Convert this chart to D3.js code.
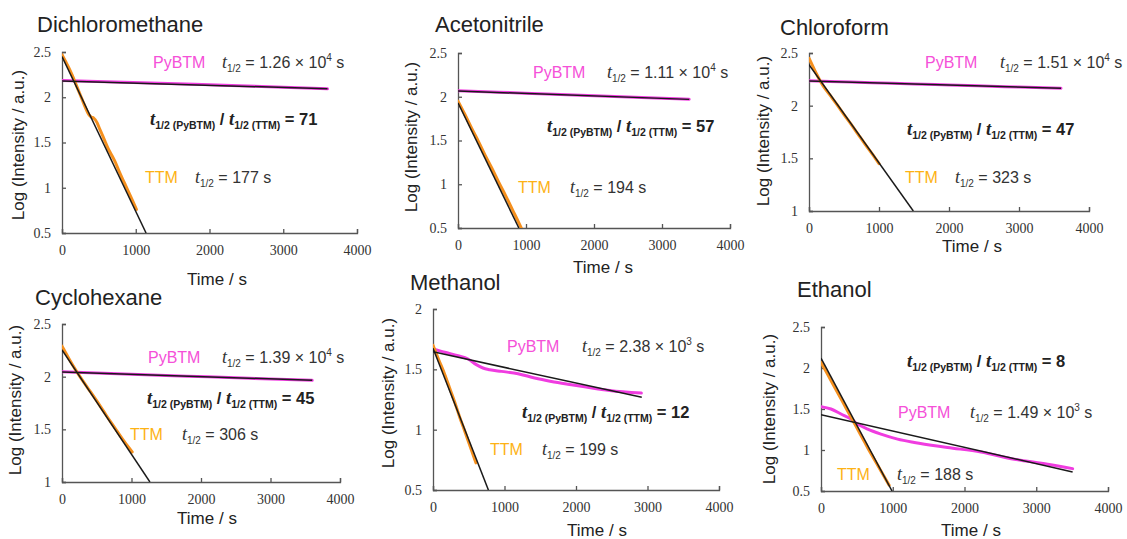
<!DOCTYPE html>
<html><head><meta charset="utf-8">
<script src="https://cdn.jsdelivr.net/npm/d3@7"></script>
<style>
body{margin:0;background:#fff;}
svg{display:block;}
.title{font-family:"Liberation Sans",Arial,sans-serif;font-size:22px;fill:#222;}
.axlab{font-family:"Liberation Sans",Arial,sans-serif;font-size:17px;fill:#222;}
.ann{font-family:"Liberation Sans",Arial,sans-serif;font-size:16px;}
.domain,.tick line{stroke:#555;stroke-width:1.3;}
</style></head><body><svg id="chart" width="1127" height="539"></svg>
<script>
// ---------------- data ----------------
const solvents = ["Dichloromethane","Acetonitrile","Chloroform","Cyclohexane","Methanol","Ethanol"];
const xTicks = [0,1000,2000,3000,4000];
const yTicksWide = [0.5,1,1.5,2,2.5];
const yTicksHigh = [1,1.5,2,2.5];
const yTicksLow = [0.5,1,1.5,2];

// raw decay traces [time (s), log intensity]
const dcmTTM = [[0,2.47],[45,2.40],[90,2.33],[135,2.25],[181,2.16],[225,2.07],[271,1.98],[315,1.89],[362,1.81],[400,1.78],[430,1.77],[475,1.72],[510,1.65],[543,1.59],[590,1.50],[633,1.42],[680,1.35],[724,1.28],[770,1.19],[814,1.11],[860,1.03],[905,0.95],[955,0.86],[1009,0.76]];
const dcmPy = [[0,2.185],[600,2.172],[1200,2.158],[1800,2.143],[2400,2.127],[3000,2.11],[3600,2.093]];
const acnTTM = [[0,1.95],[100,1.80],[200,1.64],[300,1.49],[400,1.33],[500,1.18],[600,1.02],[700,0.87],[800,0.71],[900,0.55],[930,0.5]];
const acnPy = [[0,2.068],[600,2.052],[1200,2.035],[1800,2.018],[2400,2.0],[3000,1.983],[3400,1.972]];
const chlTTM = [[0,2.45],[50,2.38],[100,2.31],[200,2.19],[300,2.10],[400,2.01],[500,1.915],[600,1.825],[700,1.73],[800,1.635],[900,1.545],[1000,1.45]];
const chlPy = [[0,2.236],[600,2.224],[1200,2.212],[1800,2.2],[2400,2.188],[3000,2.177],[3600,2.166]];
const cyhTTM = [[0,2.29],[50,2.23],[100,2.17],[200,2.06],[300,1.96],[400,1.865],[500,1.77],[600,1.67],[700,1.57],[800,1.475],[900,1.38],[1010,1.285]];
const cyhPy = [[0,2.046],[600,2.033],[1200,2.019],[1800,2.005],[2400,1.992],[3000,1.978],[3600,1.965]];
const meoTTM = [[0,1.70],[80,1.58],[163,1.46],[230,1.35],[303,1.23],[370,1.11],[443,0.99],[520,0.86],[600,0.725]];
const meoPy = [[0,1.668],[163,1.641],[350,1.613],[490,1.586],[606,1.539],[699,1.511],[793,1.497],[956,1.483],[1189,1.464],[1422,1.428],[1655,1.40],[1935,1.373],[2098,1.358],[2471,1.325],[2914,1.303]];
const etoTTM = [[0,2.07],[100,1.91],[200,1.75],[300,1.59],[400,1.43],[500,1.27],[600,1.11],[700,0.95],[800,0.80],[950,0.57]];
const etoPy = [[0,1.529],[139,1.50],[279,1.439],[418,1.378],[511,1.316],[650,1.255],[836,1.194],[1068,1.133],[1301,1.092],[1765,1.031],[2229,0.975],[2694,0.888],[3158,0.827],[3507,0.773]];

// linear fits (end points)
const dcmTTMFit = [[0,2.45],[1140,0.5]];
const dcmPyFit = [[0,2.18],[3600,2.094]];
const acnTTMFit = [[0,1.93],[895,0.5]];
const acnPyFit = [[0,2.065],[3400,1.97]];
const chlTTMFit = [[0,2.39],[1490,1.0]];
const chlPyFit = [[0,2.235],[3600,2.165]];
const cyhTTMFit = [[0,2.255],[1265,1.0]];
const cyhPyFit = [[0,2.044],[3600,1.966]];
const meoTTMFit = [[0,1.675],[775,0.5]];
const meoPyFit = [[0,1.645],[2920,1.268]];
const etoTTMFit = [[0,2.12],[990,0.5]];
const etoPyFit = [[0,1.43],[3507,0.733]];

// half-lives and ratios
const pyHalfMant = ["1.26","1.11","1.51","1.39","2.38","1.49"];
const pyHalfExp = ["4","4","4","4","3","3"];
const ttmHalf = ["177","194","323","306","199","188"];
const ratios = ["71","57","47","45","12","8"];

const ttmSeries = [dcmTTM,acnTTM,chlTTM,cyhTTM,meoTTM,etoTTM];
const pySeries = [dcmPy,acnPy,chlPy,cyhPy,meoPy,etoPy];
const ttmFits = [dcmTTMFit,acnTTMFit,chlTTMFit,cyhTTMFit,meoTTMFit,etoTTMFit];
const pyFits = [dcmPyFit,acnPyFit,chlPyFit,cyhPyFit,meoPyFit,etoPyFit];
const yTickSets = [yTicksWide,yTicksWide,yTicksHigh,yTicksHigh,yTicksLow,yTicksWide];

// ---------------- layout ----------------
const layout = [
 {x0:62,x1:357,yT:52,yB:233, title:[37,32], ylab:[18,145], xlab:[217,285], py:[153,68], pyHL:[222,68], ratio:[150,125], ttm:[145,183], ttmHL:[195,183]},
 {x0:458,x1:730,yT:53,yB:228, title:[435,32], ylab:[411,137], xlab:[603,273], py:[533,78], pyHL:[607,78], ratio:[547,132], ttm:[518,193], ttmHL:[570,193]},
 {x0:809,x1:1089,yT:53,yB:211, title:[780,35], ylab:[763,131], xlab:[972,252], py:[925,68], pyHL:[1000,68], ratio:[907,135], ttm:[905,183], ttmHL:[955,183]},
 {x0:62,x1:340,yT:324,yB:482, title:[35,305], ylab:[15,400], xlab:[207,524], py:[148,363], pyHL:[222,363], ratio:[147,404], ttm:[130,440], ttmHL:[182,440]},
 {x0:433,x1:719,yT:309,yB:490, title:[410,290], ylab:[388,393], xlab:[597,536], py:[507,352], pyHL:[582,352], ratio:[522,418], ttm:[490,455], ttmHL:[542,455]},
 {x0:821,x1:1108,yT:327,yB:491, title:[797,297], ylab:[769,409], xlab:[971,536], py:[898,418], pyHL:[970,418], ratio:[907,367], ttm:[837,480], ttmHL:[897,480]}
];
const colTTMLine = "#f5901e", colPyLine = "#f03ce0", colTTMText = "#fdb215", colPyText = "#f550d8";

const svg = d3.select("#chart");
const defs = svg.append("defs");

function halfLife(g, x, y, mant, exp) {
  const t = g.append("text").attr("class","ann").attr("x",x).attr("y",y).style("fill","#333");
  t.append("tspan").style("font-family","'Liberation Serif', serif").style("font-style","italic").style("font-size","18px").text("t");
  t.append("tspan").style("font-size","10px").attr("dy",4).text("1/2");
  if (exp) {
    t.append("tspan").attr("dy",-4).text(" = " + mant + " \u00d7 10");
    t.append("tspan").style("font-size","10px").attr("dy",-7).text(exp);
    t.append("tspan").attr("dy",7).text(" s");
  } else {
    t.append("tspan").attr("dy",-4).text(" = " + mant + " s");
  }
}
function ratioText(g, x, y, val) {
  const t = g.append("text").attr("class","ann").attr("x",x).attr("y",y).style("font-weight","bold").style("fill","#222").style("font-size","16.5px");
  const tt = () => t.append("tspan").style("font-family","'Liberation Serif', serif").style("font-style","italic").style("font-size","18.5px");
  tt().text("t");
  t.append("tspan").style("font-size","10.5px").attr("dy",4).text("1/2 (PyBTM)");
  t.append("tspan").attr("dy",-4).text(" / ");
  tt().text("t");
  t.append("tspan").style("font-size","10.5px").attr("dy",4).text("1/2 (TTM)");
  t.append("tspan").attr("dy",-4).text(" = " + val);
}
function styleTicks(sel) {
  sel.selectAll(".tick text")
    .style("font-family","'Liberation Serif', 'DejaVu Serif', serif")
    .style("font-size","14px")
    .style("fill","#333");
}

solvents.forEach((name, i) => {
  const L = layout[i];
  const yt = yTickSets[i];
  const x = d3.scaleLinear().domain([0,4000]).range([L.x0, L.x1]);
  const y = d3.scaleLinear().domain([d3.min(yt), d3.max(yt)]).range([L.yB, L.yT]);
  const g = svg.append("g");

  defs.append("clipPath").attr("id","clip"+i).append("rect")
    .attr("x",L.x0).attr("y",L.yT-2).attr("width",L.x1-L.x0).attr("height",L.yB-L.yT+2);

  g.append("g").attr("transform",`translate(0,${L.yB})`)
    .call(d3.axisBottom(x).tickValues(xTicks).tickFormat(d3.format("d")).tickSize(-4).tickSizeOuter(-4).tickPadding(12))
    .call(styleTicks);
  g.append("g").attr("transform",`translate(${L.x0},0)`)
    .call(d3.axisLeft(y).tickValues(yt).tickFormat(d => String(d)).tickSize(-4).tickSizeOuter(-4).tickPadding(11))
    .call(styleTicks);

  const line = d3.line().x(d => x(d[0])).y(d => y(d[1])).curve(d3.curveMonotoneX);
  const lin = d3.line().x(d => x(d[0])).y(d => y(d[1]));
  const plot = g.append("g").attr("clip-path",`url(#clip${i})`);
  plot.append("path").datum(pySeries[i]).attr("d",line).attr("fill","none").attr("stroke",colPyLine).attr("stroke-width",3).attr("stroke-linecap","round");
  plot.append("path").datum(ttmSeries[i]).attr("d",line).attr("fill","none").attr("stroke",colTTMLine).attr("stroke-width",3).attr("stroke-linecap","round");
  plot.append("path").datum(pyFits[i]).attr("d",lin).attr("fill","none").attr("stroke","#1a1a1a").attr("stroke-width",1.5);
  plot.append("path").datum(ttmFits[i]).attr("d",lin).attr("fill","none").attr("stroke","#1a1a1a").attr("stroke-width",1.5);

  g.append("text").attr("class","title").attr("x",L.title[0]).attr("y",L.title[1]).text(name);
  g.append("text").attr("class","axlab").attr("text-anchor","middle")
    .attr("transform",`translate(${L.ylab[0]},${L.ylab[1]}) rotate(-90)`).attr("dy","0.35em").text("Log (Intensity / a.u.)");
  g.append("text").attr("class","axlab").attr("text-anchor","middle").attr("x",L.xlab[0]).attr("y",L.xlab[1]).text("Time / s");

  g.append("text").attr("class","ann").attr("x",L.py[0]).attr("y",L.py[1]).style("fill",colPyText).text("PyBTM");
  halfLife(g, L.pyHL[0], L.pyHL[1], pyHalfMant[i], pyHalfExp[i]);
  ratioText(g, L.ratio[0], L.ratio[1], ratios[i]);
  g.append("text").attr("class","ann").attr("x",L.ttm[0]).attr("y",L.ttm[1]).style("fill",colTTMText).text("TTM");
  halfLife(g, L.ttmHL[0], L.ttmHL[1], ttmHalf[i], null);
});
</script></body></html>
